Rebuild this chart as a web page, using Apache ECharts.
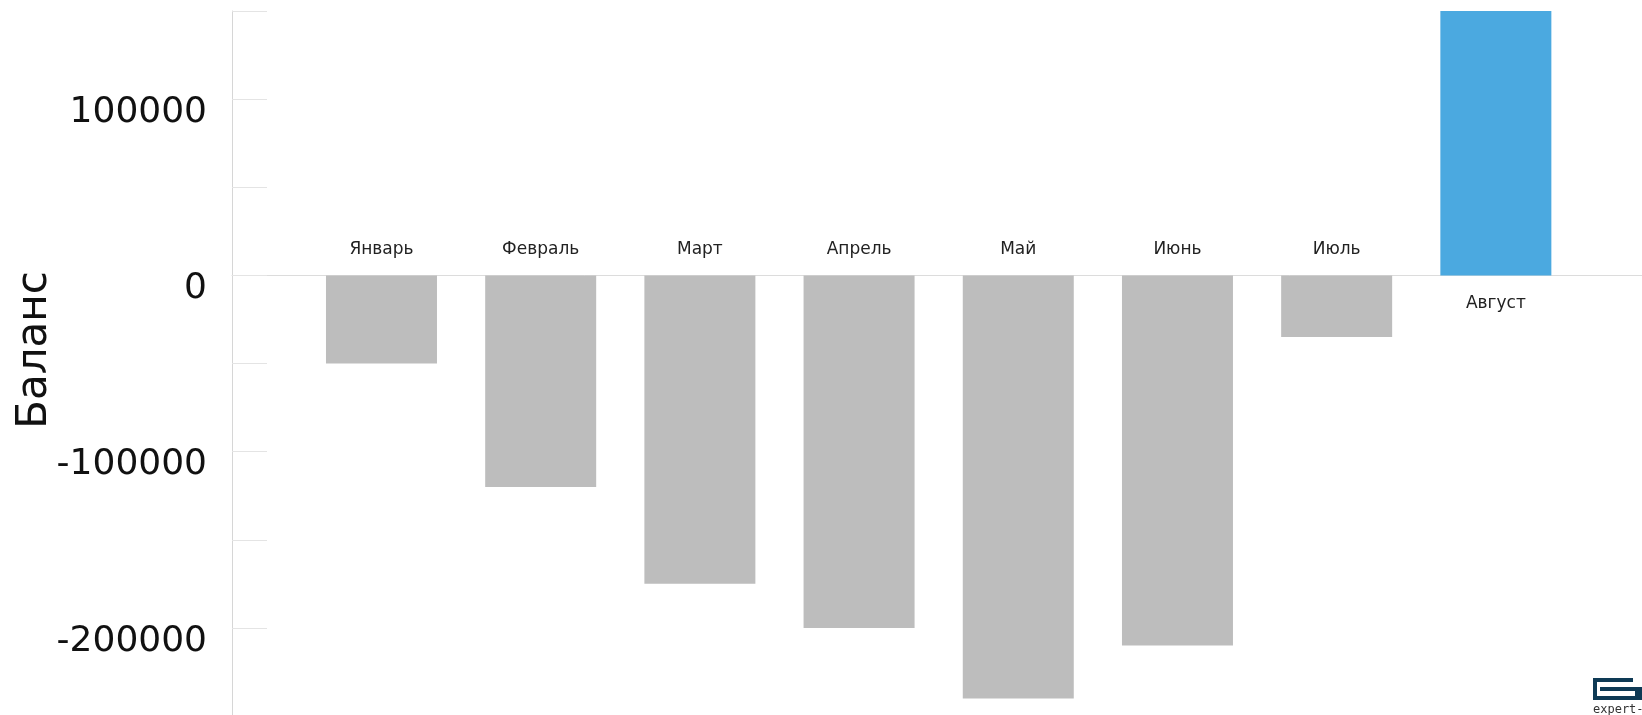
<!DOCTYPE html>
<html><head><meta charset="utf-8">
<script src="https://cdn.jsdelivr.net/npm/echarts@6/dist/echarts.min.js"></script>
<style>html,body{margin:0;padding:0;background:#fff}#c{width:1642px;height:715px}</style>
</head><body><div id="c"></div>
<script>
const categories = ['Январь','Февраль','Март','Апрель','Май','Июнь','Июль','Август'];
const balance = [-50000,-120000,-175000,-200000,-240000,-210000,-35000,150000];
const positions = [0,1,2,3,4,5,6,7];
const yLabelTicks = [-200000,-100000,0,100000];
const yAxisName = 'Баланс';

const chart = echarts.init(document.getElementById('c'), null, {renderer:'canvas'});
const data = balance.map((v,i)=>({
  value:[positions[i], v],
  itemStyle:{color: v < 0 ? '#bdbdbd' : '#4ba9e0'},
  label:{show:true, position: v < 0 ? 'top' : 'bottom', distance: v < 0 ? 17 : 20, formatter: categories[i]}
}));
chart.setOption({
  animation:false,
  backgroundColor:'#fff',
  grid:{left:232, right:0, top:11, bottom:-1, containLabel:false, outerBoundsMode:'none'},
  xAxis:{type:'value', min:-0.939, max:7.918,
    axisLine:{show:true, onZero:true, lineStyle:{color:'#dcdcdc', width:1}},
    axisTick:{show:false}, axisLabel:{show:false}, splitLine:{show:false}},
  yAxis:{type:'value', min:-250000, max:150000, interval:50000,
    axisLine:{show:true, onZero:false, lineStyle:{color:'#d6d6d6', width:1}},
    axisTick:{show:true, inside:true, length:35, lineStyle:{color:'#e4e4e4'}},
    axisLabel:{margin:25, fontFamily:'DejaVu Sans', fontSize:36, color:'#111',
      verticalAlign:'top', lineHeight:27,
      formatter:(v)=> yLabelTicks.indexOf(v) >= 0 ? String(v) : ''},
    splitLine:{show:false}},
  series:[{type:'bar', barWidth:111, data:data,
    label:{fontFamily:'DejaVu Sans', fontSize:17, color:'#222'}}],
  graphic:[
    {type:'text', x:35, y:350, rotation:Math.PI/2,
      style:{text:yAxisName, fontFamily:'DejaVu Sans', fontSize:42, fill:'#111', align:'center', verticalAlign:'middle'}},
    {type:'group', left:1593, top:678, children:[
      {type:'rect', shape:{x:0,y:0,width:40,height:4}, style:{fill:'#0e3a55'}},
      {type:'rect', shape:{x:0,y:0,width:4,height:22}, style:{fill:'#0e3a55'}},
      {type:'rect', shape:{x:0,y:18,width:49,height:4}, style:{fill:'#0e3a55'}},
      {type:'rect', shape:{x:7,y:9,width:42,height:4}, style:{fill:'#0e3a55'}},
      {type:'rect', shape:{x:42,y:9,width:7,height:13}, style:{fill:'#0e3a55'}},
      {type:'text', x:0, y:26, style:{text:'expert-', fontFamily:'DejaVu Sans Mono', fontSize:12, fill:'#333'}}
    ]}
  ]
});
</script></body></html>
